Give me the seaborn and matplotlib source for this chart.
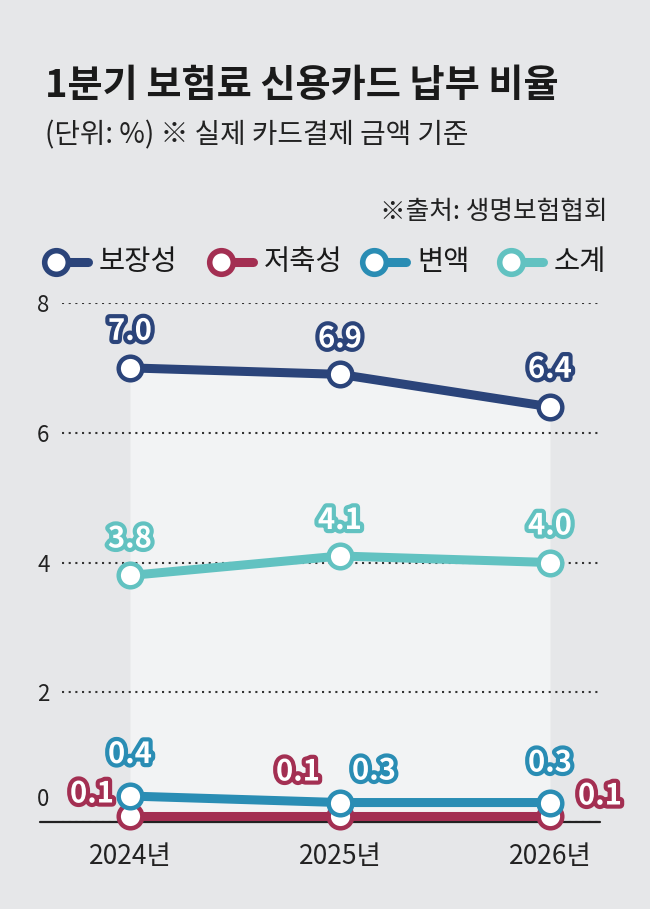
import matplotlib
matplotlib.use("Agg")
import matplotlib.pyplot as plt
import matplotlib.patheffects as pe
from matplotlib.lines import Line2D
from matplotlib.transforms import ScaledTranslation
import pandas as pd
import seaborn as sns

years = ["2024년", "2025년", "2026년"]
series = ["보장성", "저축성", "변액", "소계"]
protection = [7.0, 6.9, 6.4]
savings = [0.1, 0.1, 0.1]
variable = [0.4, 0.3, 0.3]
subtotal = [3.8, 4.1, 4.0]
yticks = [0, 2, 4, 6, 8]

colors = {"보장성": "#2b447a", "저축성": "#a32f52", "변액": "#2a8db4", "소계": "#62c2c1"}
# label offsets in pixels
offsets = {
    "보장성": [(0, 37), (0, 36), (0, 38)],
    "저축성": [(-38, 22), (-42, 44), (50, 20)],
    "변액": [(0, 42), (34, 32), (0, 40)],
    "소계": [(0, 37), (0, 36), (0, 37)],
}

values = {"보장성": protection, "저축성": savings, "변액": variable, "소계": subtotal}
xpos = list(range(len(years)))
df = pd.DataFrame(
    [(s, x, v) for s in series for x, v in zip(xpos, values[s])],
    columns=["series", "x", "value"],
)

sns.set_theme(style="white")
plt.rcParams["font.family"] = ["Noto Sans CJK KR", "DejaVu Sans"]

bg = "#e6e7e9"
fig = plt.figure(figsize=(6.5, 9.09), dpi=100, facecolor=bg)
ax = fig.add_axes([62 / 650, 87 / 909, 538 / 650, 519 / 909])
ax.set_facecolor(bg)

ax.fill_between(xpos, protection, 0, color="#f2f3f4", zorder=0, lw=0)
ax.axhline(0, xmin=-22 / 538, xmax=1, color="#222222", lw=1.6, clip_on=False, zorder=1)

order = ["보장성", "소계", "저축성", "변액"]
for i, s in enumerate(order):
    sub = df[df["series"] == s]
    sns.lineplot(data=sub, x="x", y="value", ax=ax, color=colors[s], lw=6.5,
                 marker="o", markersize=17, mfc="white", mec=colors[s], mew=3.2,
                 zorder=3 + i, clip_on=False, legend=False)
    for x, v, off in zip(xpos, values[s], offsets[s]):
        ax.annotate(f"{v:.1f}", (x, v), xytext=off, textcoords="offset pixels",
                    ha="center", va="center", fontsize=21, fontweight="bold",
                    color="white", zorder=10 + i, annotation_clip=False,
                    path_effects=[pe.withStroke(linewidth=6, foreground=colors[s])])

ax.set_xlim((62 - 130) / 210, (600 - 130) / 210)
ax.set_ylim(0, 8)
ax.set_xticks(xpos)
ax.set_xticklabels(years, fontsize=19, color="#222222")
ax.set_yticks(yticks)
ax.set_yticklabels([str(t) for t in yticks], fontsize=16, color="#222222")
ax.tick_params(axis="x", length=0, pad=15)
ax.tick_params(axis="y", length=0, pad=9)
ax.yaxis.grid(True, color="#333333", lw=1.5, linestyle=(0, (1, 2.2)))
ax.xaxis.grid(False)
for sp in ax.spines.values():
    sp.set_visible(False)
ax.set_xlabel("")
ax.set_ylabel("")
zero = ax.get_yticklabels()[0]
zero.set_transform(zero.get_transform() + ScaledTranslation(0, 0.25, fig.dpi_scale_trans))

fig.text(45 / 650, 1 - 85 / 909, "1분기 보험료 신용카드 납부 비율", fontsize=27.5,
         fontweight="bold", color="#1a1a1a", va="center", ha="left")
fig.text(45 / 650, 1 - 135 / 909, "(단위: %) ※ 실제 카드결제 금액 기준", fontsize=20,
         color="#222222", va="center", ha="left")
fig.text(608 / 650, 1 - 212 / 909, "※출처: 생명보험협회", fontsize=18.5,
         color="#222222", va="center", ha="right")

# legend drawn by hand
leg_x = [56, 221, 374, 511]
ly = 1 - 262 / 909
for s, lx in zip(series, leg_x):
    fig.add_artist(Line2D([lx / 650, (lx + 32) / 650], [ly, ly], color=colors[s],
                          lw=6.5, transform=fig.transFigure))
    fig.add_artist(Line2D([lx / 650], [ly], marker="o", markersize=17, mfc="white",
                          mec=colors[s], mew=4, transform=fig.transFigure))
    fig.text((lx + 43) / 650, ly, s, fontsize=20.5, color="#1a1a1a",
             va="center", ha="left")

fig.savefig("out.png", dpi=100, facecolor=bg)
